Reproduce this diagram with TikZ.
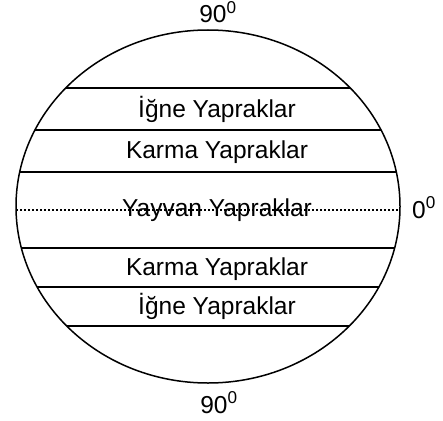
\documentclass[tikz,border=0pt]{standalone}
\usepackage{fontspec}
\setmainfont{Liberation Sans}
\tikzset{
	kusak/.style={line width=1.5pt},
	ekvator/.style={line width=1.3pt, dash pattern=on 1.8pt off 2.2pt},
	etiket/.style={anchor=base, inner sep=0pt, font=\fontsize{24.5}{28}\selectfont}
}
\begin{document}
\begin{tikzpicture}[x=1pt, y=-1pt]
	\useasboundingbox (0,0) rectangle (443,420);
	% kure
	\draw[kusak] (208,206.5) ellipse [x radius=192, y radius=176.5];
	% kusak sinirlari
	\draw[kusak] (65.7,88)  -- (350.3,88);
	\draw[kusak] (35,130)   -- (381,130);
	\draw[kusak] (19.7,172) -- (396.3,172);
	\draw[kusak] (21.4,248) -- (394.6,248);
	\draw[kusak] (37.1,287) -- (378.9,287);
	\draw[kusak] (66.7,326) -- (349.3,326);
	% ekvator
	\draw[ekvator] (16.2,210) -- (399.8,210);
	% kusak adlari
	\node[etiket] (igne1)  at (217,117.5) {İğne Yapraklar};
	\node[etiket] (karma1) at (217,158.5) {Karma Yapraklar};
	\node[etiket] (yayvan) at (217,216.5) {Yayvan Yapraklar};
	\node[etiket] (karma2) at (217,275)   {Karma Yapraklar};
	\node[etiket] (igne2)  at (217,314.5) {İğne Yapraklar};
	% enlemler
	\node[etiket] (kuzey) at (218,23)  {90\textsuperscript{0}};
	\node[etiket] (ekv)   at (424,218) {0\textsuperscript{0}};
	\node[etiket] (guney) at (219,413) {90\textsuperscript{0}};
\end{tikzpicture}
\end{document}
